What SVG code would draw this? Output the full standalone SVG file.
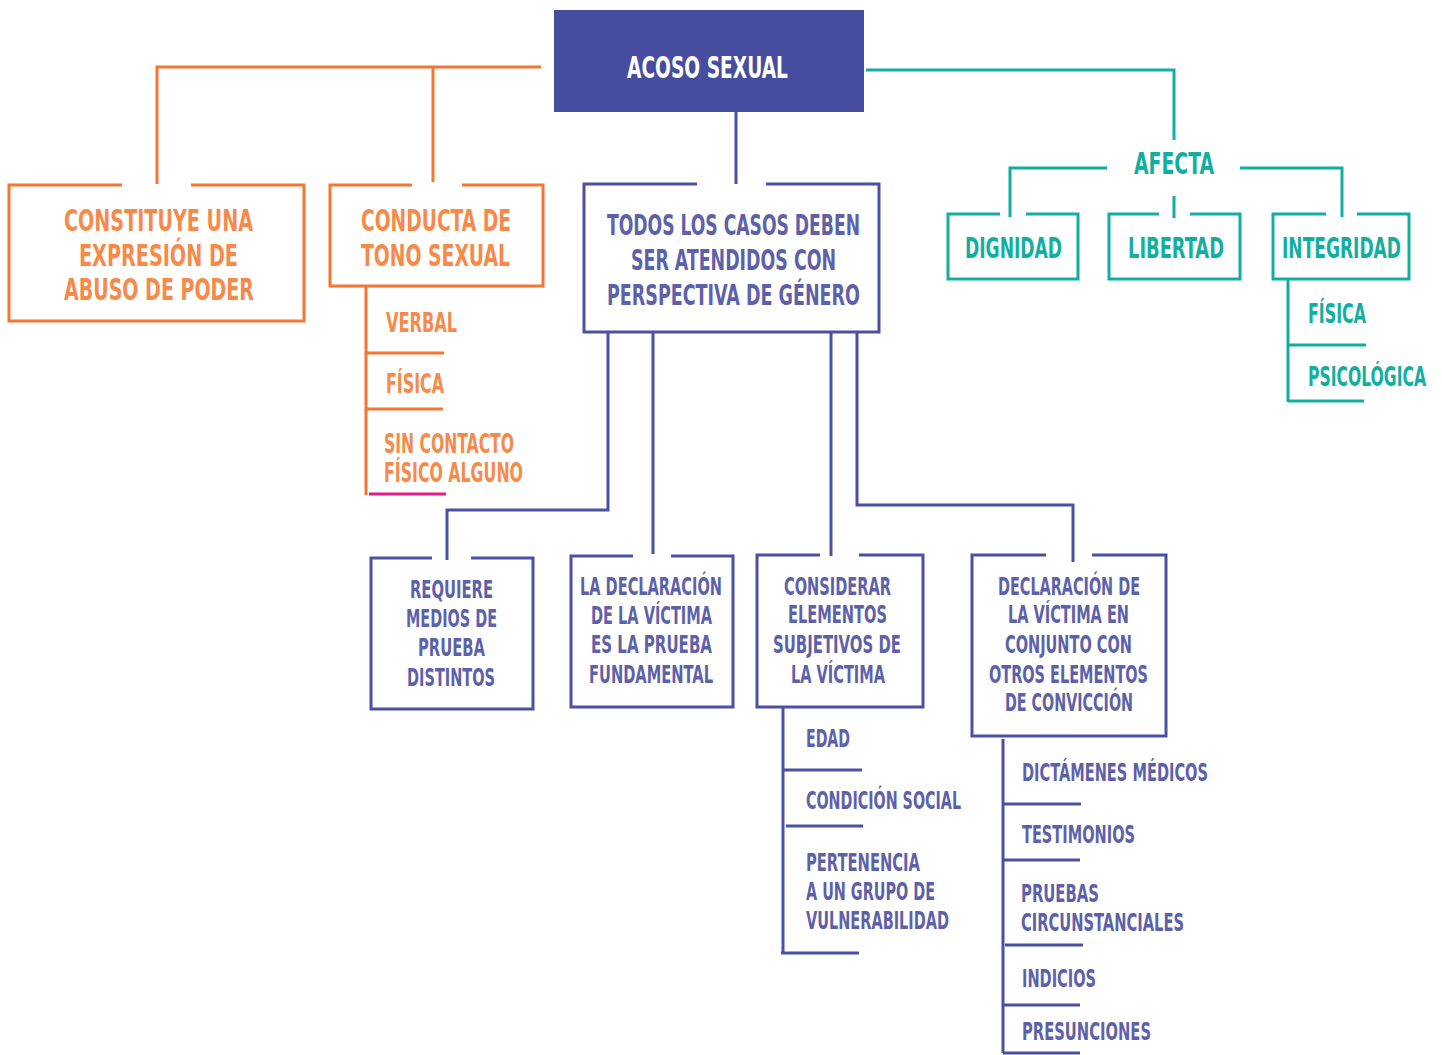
<svg xmlns="http://www.w3.org/2000/svg" width="1442" height="1055" viewBox="0 0 1442 1055">
<style>
text{font-family:"Liberation Sans Narrow","DejaVu Sans Condensed","Liberation Sans",sans-serif;font-weight:bold;}
.o{fill:#F58A4B}.p{fill:#5D61AA}.t{fill:#12AE9F}.w{fill:#FFFFFF}
.s31{font-size:31px}.s28{font-size:28px}.s30{font-size:30px}.s29{font-size:29px}.s26{font-size:26px}.s25{font-size:25px}.s24{font-size:24px}
.lo,.lp,.lt,.lk{fill:none;stroke-width:3}
.lo{stroke:#F47631}.lp{stroke:#4A50A2}.lt{stroke:#12AE9F}.lk{stroke:#E6198A}
</style>
<rect width="1442" height="1055" fill="#FFFFFF"/>

<g id="connectors">
<path class="lo" d="M541,67 H157 V184 M433,67 V182"/>
<path class="lp" d="M736,112 V184 M608,332 V510 H447 V560 M653,332 V554 M831,332 V556 M857,332 V505 H1073 V562"/>
<path class="lt" d="M866,70 H1174 V140 M1107,168 H1010 V217 M1240,168 H1342 V217 M1174,196 V218"/>
</g>

<g id="acoso-sexual">
<rect x="554" y="10" width="310" height="102" fill="#464C9E"/>
<text class="w s31" x="627" y="78" textLength="161" lengthAdjust="spacingAndGlyphs">ACOSO SEXUAL</text>
</g>

<g id="abuso-poder">
<path class="lo" d="M122,185 H9 V321 H304 V185 H191"/>
<text class="o s31" x="64" y="231" textLength="189" lengthAdjust="spacingAndGlyphs">CONSTITUYE UNA</text>
<text class="o s31" x="79" y="266" textLength="159" lengthAdjust="spacingAndGlyphs">EXPRESIÓN DE</text>
<text class="o s31" x="64" y="300" textLength="190" lengthAdjust="spacingAndGlyphs">ABUSO DE PODER</text>
</g>

<g id="conducta">
<path class="lo" d="M412,185 H330 V286 H543 V185 H462"/>
<text class="o s31" x="361" y="231" textLength="150" lengthAdjust="spacingAndGlyphs">CONDUCTA DE</text>
<text class="o s31" x="361" y="266" textLength="149" lengthAdjust="spacingAndGlyphs">TONO SEXUAL</text>
</g>

<g id="conducta-tipos">
<path class="lo" d="M366,286 V495 M366,353 H444 M366,409 H443"/>
<path class="lk" d="M369,494 H446"/>
<text class="o s26" x="386" y="332" textLength="71" lengthAdjust="spacingAndGlyphs">VERBAL</text>
<text class="o s26" x="386" y="393" textLength="58" lengthAdjust="spacingAndGlyphs">FÍSICA</text>
<text class="o s26" x="384" y="453" textLength="130" lengthAdjust="spacingAndGlyphs">SIN CONTACTO</text>
<text class="o s26" x="384" y="482" textLength="139" lengthAdjust="spacingAndGlyphs">FÍSICO ALGUNO</text>
</g>

<g id="perspectiva-genero">
<path class="lp" d="M697,184 H584 V332 H879 V184 H766"/>
<text class="p s28" x="607" y="235" textLength="253" lengthAdjust="spacingAndGlyphs">TODOS LOS CASOS DEBEN</text>
<text class="p s28" x="631" y="270" textLength="205" lengthAdjust="spacingAndGlyphs">SER ATENDIDOS CON</text>
<text class="p s28" x="607" y="305" textLength="253" lengthAdjust="spacingAndGlyphs">PERSPECTIVA DE GÉNERO</text>
</g>

<g id="afecta">
<text class="t s30" x="1134" y="174" textLength="80" lengthAdjust="spacingAndGlyphs">AFECTA</text>
</g>

<g id="dignidad">
<path class="lt" d="M1000,214 H948 V279 H1078 V214 H1026"/>
<text class="t s29" x="965" y="258" textLength="97" lengthAdjust="spacingAndGlyphs">DIGNIDAD</text>
</g>

<g id="libertad">
<path class="lt" d="M1159,214 H1109 V279 H1240 V214 H1190"/>
<text class="t s29" x="1128" y="258" textLength="96" lengthAdjust="spacingAndGlyphs">LIBERTAD</text>
</g>

<g id="integridad">
<path class="lt" d="M1326,214 H1273 V279 H1409 V214 H1357"/>
<text class="t s29" x="1282" y="258" textLength="119" lengthAdjust="spacingAndGlyphs">INTEGRIDAD</text>
</g>

<g id="integridad-tipos">
<path class="lt" d="M1288,279 V402 M1288,345 H1366 M1288,401 H1364"/>
<text class="t s26" x="1308" y="323" textLength="58" lengthAdjust="spacingAndGlyphs">FÍSICA</text>
<text class="t s26" x="1308" y="386" textLength="118" lengthAdjust="spacingAndGlyphs">PSICOLÓGICA</text>
</g>

<g id="requiere-medios">
<path class="lp" d="M432,558 H371 V709 H533 V558 H471"/>
<text class="p s25" x="410" y="598" textLength="83" lengthAdjust="spacingAndGlyphs">REQUIERE</text>
<text class="p s25" x="406" y="627" textLength="91" lengthAdjust="spacingAndGlyphs">MEDIOS DE</text>
<text class="p s25" x="418" y="656" textLength="67" lengthAdjust="spacingAndGlyphs">PRUEBA</text>
<text class="p s25" x="407" y="686" textLength="88" lengthAdjust="spacingAndGlyphs">DISTINTOS</text>
</g>

<g id="declaracion-fundamental">
<path class="lp" d="M633,556 H571 V707 H733 V556 H671"/>
<text class="p s25" x="580" y="595" textLength="142" lengthAdjust="spacingAndGlyphs">LA DECLARACIÓN</text>
<text class="p s25" x="591" y="624" textLength="121" lengthAdjust="spacingAndGlyphs">DE LA VÍCTIMA</text>
<text class="p s25" x="591" y="653" textLength="121" lengthAdjust="spacingAndGlyphs">ES LA PRUEBA</text>
<text class="p s25" x="589" y="683" textLength="124" lengthAdjust="spacingAndGlyphs">FUNDAMENTAL</text>
</g>

<g id="elementos-subjetivos">
<path class="lp" d="M820,555 H757 V707 H923 V555 H859"/>
<text class="p s25" x="784" y="595" textLength="107" lengthAdjust="spacingAndGlyphs">CONSIDERAR</text>
<text class="p s25" x="788" y="623" textLength="99" lengthAdjust="spacingAndGlyphs">ELEMENTOS</text>
<text class="p s25" x="773" y="653" textLength="128" lengthAdjust="spacingAndGlyphs">SUBJETIVOS DE</text>
<text class="p s25" x="791" y="683" textLength="94" lengthAdjust="spacingAndGlyphs">LA VÍCTIMA</text>
</g>

<g id="subjetivos-lista">
<path class="lp" d="M783,707 V953 M783,770 H862 M786,826 H863 M781,953 H859"/>
<text class="p s24" x="806" y="747" textLength="44" lengthAdjust="spacingAndGlyphs">EDAD</text>
<text class="p s24" x="806" y="809" textLength="155" lengthAdjust="spacingAndGlyphs">CONDICIÓN SOCIAL</text>
<text class="p s24" x="806" y="871" textLength="114" lengthAdjust="spacingAndGlyphs">PERTENENCIA</text>
<text class="p s24" x="806" y="900" textLength="129" lengthAdjust="spacingAndGlyphs">A UN GRUPO DE</text>
<text class="p s24" x="806" y="929" textLength="143" lengthAdjust="spacingAndGlyphs">VULNERABILIDAD</text>
</g>

<g id="declaracion-conjunto">
<path class="lp" d="M1046,555 H972 V736 H1166 V555 H1092"/>
<text class="p s25" x="998" y="595" textLength="142" lengthAdjust="spacingAndGlyphs">DECLARACIÓN DE</text>
<text class="p s25" x="1008" y="623" textLength="121" lengthAdjust="spacingAndGlyphs">LA VÍCTIMA EN</text>
<text class="p s25" x="1005" y="653" textLength="127" lengthAdjust="spacingAndGlyphs">CONJUNTO CON</text>
<text class="p s25" x="989" y="683" textLength="159" lengthAdjust="spacingAndGlyphs">OTROS ELEMENTOS</text>
<text class="p s25" x="1005" y="711" textLength="128" lengthAdjust="spacingAndGlyphs">DE CONVICCIÓN</text>
</g>

<g id="conviccion-lista">
<path class="lp" d="M1003,739 V1053 M1003,804 H1081 M1003,860 H1080 M1005,945 H1083 M1003,1005 H1080 M1003,1053 H1080"/>
<text class="p s24" x="1022" y="781" textLength="186" lengthAdjust="spacingAndGlyphs">DICTÁMENES MÉDICOS</text>
<text class="p s24" x="1022" y="843" textLength="113" lengthAdjust="spacingAndGlyphs">TESTIMONIOS</text>
<text class="p s24" x="1021" y="902" textLength="78" lengthAdjust="spacingAndGlyphs">PRUEBAS</text>
<text class="p s24" x="1021" y="931" textLength="163" lengthAdjust="spacingAndGlyphs">CIRCUNSTANCIALES</text>
<text class="p s24" x="1022" y="987" textLength="74" lengthAdjust="spacingAndGlyphs">INDICIOS</text>
<text class="p s24" x="1022" y="1040" textLength="129" lengthAdjust="spacingAndGlyphs">PRESUNCIONES</text>
</g>
</svg>
